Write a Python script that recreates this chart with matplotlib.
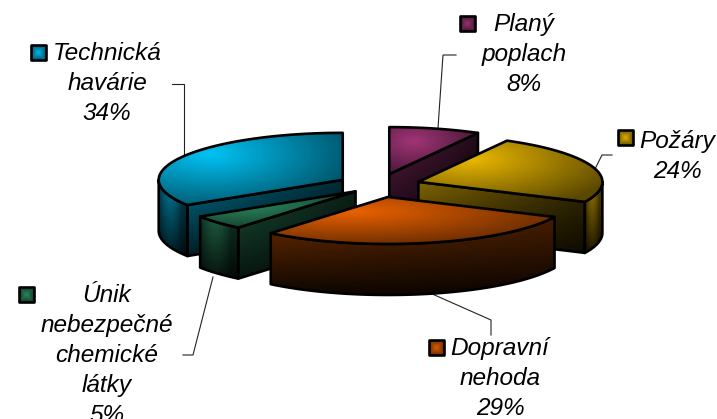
import numpy as np
import matplotlib
matplotlib.use("Agg")
import matplotlib.pyplot as plt
from matplotlib.patches import Polygon

categories = ["Planý poplach", "Požáry", "Dopravní nehoda", "Únik nebezpečné chemické látky", "Technická havárie"]
shares = [8, 24, 29, 5, 34]
label_lines = [["Planý", "poplach", "8%"], ["Požáry", "24%"], ["Dopravní", "nehoda", "29%"],
               ["Únik", "nebezpečné", "chemické", "látky", "5%"], ["Technická", "havárie", "34%"]]
base_colors = [(160, 52, 118), (235, 185, 0), (235, 98, 0), (44, 140, 98), (0, 195, 245)]
explode = [0.225, 0.225, 0.225, 0.17, 0.225]
draw_order = [0, 1, 4, 3, 2]

# layout (pixel space)
CX, CY, RX, RY, DEPTH = 379, 185.5, 184, 47, 51
text_x = [524, 677, 500, 107, 107]
text_y0 = [31, 148, 355, 302, 60]
line_step = 30
key_xy = [(460, 16), (618, 130), (429, 340), (19, 287), (31, 45)]
key_size = 15
leaders = [[(438, 128), (443, 55), (456, 55)],
           [(595, 169), (602, 155), (612, 155)],
           [(430, 293), (491, 320), (491, 335)],
           [(213, 277), (193, 355), (183, 355)],
           [(184, 155), (184, 84), (172, 84)]]

fig = plt.figure(figsize=(7.17, 4.19), dpi=100)
ax = fig.add_axes([0, 0, 1, 1])
ax.set_xlim(0, 717)
ax.set_ylim(419, 0)
ax.axis("off")
LW = 1.9


def shaded(verts, color, func, z):
    verts = np.asarray(verts, float)
    x0, y0 = verts.min(axis=0)
    x1, y1 = verts.max(axis=0)
    w, h = max(x1 - x0, 1), max(y1 - y0, 1)
    n, m = int(w * 2) + 2, int(h * 2) + 2
    u, v = np.meshgrid(np.linspace(0, 1, n), np.linspace(0, 1, m))
    f = np.clip(func(u, v), 0, 1.05)
    rgb = np.clip(f[..., None] * np.array(color) / 255.0, 0, 1)
    im = ax.imshow(rgb, extent=(x0, x1, y1, y0), zorder=z, interpolation="bilinear", aspect="auto")
    poly = Polygon(verts, closed=True, fc="none", ec="black", lw=LW, joinstyle="round", zorder=z + 0.1)
    ax.add_patch(poly)
    im.set_clip_path(poly)


def top_shade(u, v):
    d = np.hypot(u - 0.28, v - 0.3)
    return 1.0 - 0.72 * np.minimum(d, 0.85)


def cut_shade(u, v):
    return (0.55 - 0.40 * v) * (1.0 - 0.6 * u)


def arc_shade(u, v):
    return (0.62 - 0.5 * v) * (0.55 + 0.5 * np.sin(np.pi * np.clip(u * 1.25, 0, 1)))


def long_arc_shade(u, v):
    return (0.46 - 0.40 * v) * (0.95 - 0.3 * u)


fractions = np.cumsum([0] + shares) / np.sum(shares) * 2 * np.pi

z = 2
for i in draw_order:
    t1, t2 = fractions[i], fractions[i + 1]
    mid = (t1 + t2) / 2
    ax0 = CX + explode[i] * RX * np.sin(mid)
    ay0 = CY - 0.25 * RY * np.cos(mid) * explode[i] / 0.225
    col = base_colors[i]

    # radial cut face turned towards the viewer
    for edge, visible in ((t2, np.sin(t2) > 0.01), (t1, np.sin(t1) < -0.01)):
        if visible:
            ex, ey = ax0 + RX * np.sin(edge), ay0 - RY * np.cos(edge)
            quad = [(ax0, ay0), (ex, ey), (ex, ey + DEPTH), (ax0, ay0 + DEPTH)]
            if ex < ax0:
                quad = [(ex, ey), (ax0, ay0), (ax0, ay0 + DEPTH), (ex, ey + DEPTH)]
            shaded(quad, col, cut_shade, z)
            z += 1

    # outer rim
    lo, hi = max(t1, np.pi / 2), min(t2, 3 * np.pi / 2)
    if hi > lo:
        arc = np.linspace(lo, hi, 60)
        rim_top = np.c_[ax0 + RX * np.sin(arc), ay0 - RY * np.cos(arc)]
        rim = np.vstack([rim_top, (rim_top + [0, DEPTH])[::-1]])
        shade = long_arc_shade if (hi - lo) > 1.2 else arc_shade
        shaded(rim, col, shade, z)
        z += 1

    # top face
    arc = np.linspace(t1, t2, 120)
    top = np.vstack([[ax0, ay0], np.c_[ax0 + RX * np.sin(arc), ay0 - RY * np.cos(arc)]])
    shaded(top, col, top_shade, z)
    z += 1

for i in range(len(shares)):
    xs, ys = zip(*leaders[i])
    ax.plot(xs, ys, color="#222222", lw=0.8, zorder=1, solid_joinstyle="miter")
    for k, line in enumerate(label_lines[i]):
        ax.text(text_x[i], text_y0[i] + k * line_step, line, ha="center", va="baseline",
                fontsize=17.6, style="italic", family="Liberation Sans", color="black", zorder=100)
    kx, ky = key_xy[i]
    square = [(kx, ky), (kx + key_size, ky), (kx + key_size, ky + key_size), (kx, ky + key_size)]
    shaded(square, base_colors[i], lambda u, v: 0.95 - 1.0 * np.maximum(np.abs(u - .5), np.abs(v - .5)), 100)

ax.set_xlim(0, 717)
ax.set_ylim(419, 0)
fig.savefig("out.png", dpi=100)
